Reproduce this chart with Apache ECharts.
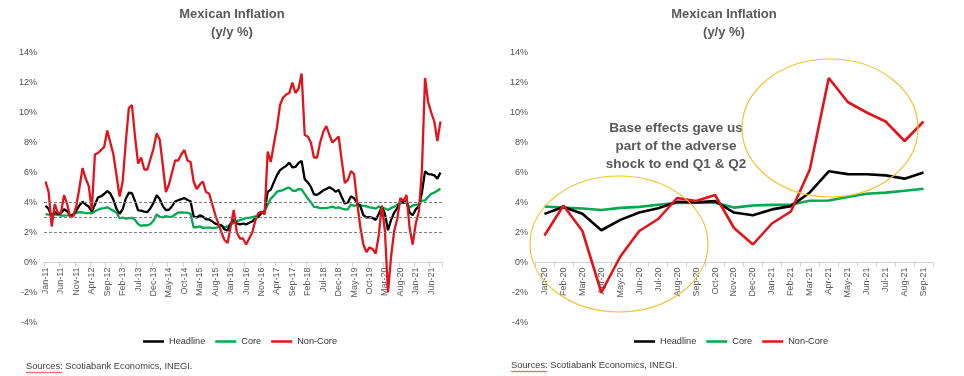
<!DOCTYPE html>
<html>
<head>
<meta charset="utf-8">
<script src="https://cdn.jsdelivr.net/npm/echarts@6/dist/echarts.min.js"></script>
<style>
  html, body { margin: 0; padding: 0; background: #fff; }
  #chart { width: 964px; height: 376px; }
</style>
</head>
<body>
<div id="chart"></div>
<script>
// month labels Jan-11 .. Sep-21
var monthNames = ['Jan','Feb','Mar','Apr','May','Jun','Jul','Aug','Sep','Oct','Nov','Dec'];
var months = [];
for (var y = 2011; y <= 2021; y++) {
  for (var m = 0; m < 12; m++) {
    if (y == 2021 && m > 8) break;
    months.push(monthNames[m] + '-' + String(y).slice(2));
  }
}

// y/y %, one row per year
var headline = [
  3.78, 3.57, 3.04, 3.36, 3.25, 3.28, 3.55, 3.42, 3.14, 3.20, 3.48, 3.82,
  4.05, 3.87, 3.73, 3.41, 3.85, 4.34, 4.42, 4.57, 4.77, 4.60, 4.18, 3.57,
  3.25, 3.55, 4.25, 4.65, 4.63, 4.09, 3.47, 3.46, 3.39, 3.36, 3.62, 3.97,
  4.48, 4.23, 3.76, 3.50, 3.51, 3.75, 4.07, 4.15, 4.22, 4.30, 4.17, 4.08,
  3.07, 3.00, 3.14, 3.06, 2.88, 2.87, 2.74, 2.59, 2.52, 2.48, 2.21, 2.13,
  2.61, 2.87, 2.60, 2.54, 2.60, 2.54, 2.65, 2.73, 2.97, 3.06, 3.31, 3.36,
  4.72, 4.86, 5.35, 5.82, 6.16, 6.31, 6.44, 6.66, 6.35, 6.37, 6.63, 6.77,
  5.55, 5.34, 5.04, 4.55, 4.51, 4.65, 4.81, 4.90, 5.02, 4.90, 4.72, 4.83,
  4.37, 3.94, 4.00, 4.41, 4.28, 3.95, 3.78, 3.16, 3.00, 3.02, 2.97, 2.83,
  3.24, 3.70, 3.25, 2.15, 2.84, 3.33, 3.62, 4.05, 4.01, 4.09, 3.33, 3.15,
  3.54, 3.76, 4.67, 6.08, 5.89, 5.88, 5.81, 5.59, 6.00
];
var core = [
  3.23, 3.19, 3.20, 3.19, 3.18, 3.12, 3.13, 3.14, 3.16, 3.18, 3.32, 3.35,
  3.34, 3.29, 3.31, 3.28, 3.42, 3.52, 3.60, 3.63, 3.68, 3.56, 3.45, 3.34,
  2.95, 3.00, 2.92, 2.96, 2.98, 2.84, 2.57, 2.44, 2.49, 2.48, 2.57, 2.78,
  3.21, 3.05, 3.00, 3.09, 3.04, 3.05, 3.20, 3.33, 3.34, 3.32, 3.32, 3.24,
  2.34, 2.35, 2.41, 2.31, 2.33, 2.33, 2.31, 2.30, 2.36, 2.47, 2.34, 2.41,
  2.54, 2.64, 2.76, 2.82, 2.89, 2.97, 2.98, 3.03, 3.07, 3.10, 3.29, 3.44,
  3.84, 4.26, 4.46, 4.72, 4.78, 4.83, 4.94, 5.00, 4.80, 4.77, 4.90, 4.87,
  4.56, 4.27, 4.02, 3.71, 3.69, 3.62, 3.63, 3.63, 3.67, 3.73, 3.63, 3.68,
  3.60, 3.54, 3.55, 3.87, 3.77, 3.85, 3.82, 3.78, 3.75, 3.68, 3.65, 3.59,
  3.73, 3.66, 3.60, 3.50, 3.64, 3.71, 3.85, 3.97, 3.99, 3.98, 3.66, 3.80,
  3.84, 3.87, 4.12, 4.13, 4.37, 4.58, 4.66, 4.78, 4.92
];
var nonCore = [
  5.4, 4.7, 2.4, 3.9, 3.3, 3.3, 4.5, 3.9, 3.0, 3.1, 3.8, 5.0,
  6.3, 5.6, 5.1, 3.5, 7.2, 7.3, 7.5, 7.7, 8.8, 8.0, 7.2, 5.8,
  4.4, 5.4, 8.0, 10.3, 10.5, 8.4, 6.6, 7.0, 6.2, 6.2, 6.9, 7.6,
  8.6, 8.2, 6.5, 4.7, 5.2, 6.0, 6.8, 6.8, 7.2, 7.5, 6.8, 6.7,
  5.4, 4.9, 5.2, 5.4, 4.7, 4.6, 3.9, 3.2, 2.6, 2.0, 1.5, 1.3,
  2.4, 3.5, 2.0, 1.6, 1.6, 1.2, 1.6, 2.0, 2.8, 3.3, 3.4, 3.2,
  7.4, 6.7, 7.9, 9.0, 10.5, 11.0, 11.2, 11.3, 12.0, 11.3, 11.6, 12.6,
  8.5, 8.4, 8.0, 7.0, 7.0, 8.0, 8.7, 9.1, 8.5, 8.0, 8.2, 8.4,
  6.8, 5.3, 5.5, 6.1, 5.9, 4.0, 2.4, 1.2, 0.7, 1.0, 0.9, 0.6,
  1.8, 3.8, 2.1, -2.0, 0.4, 2.1, 2.9, 4.3, 4.1, 4.5, 2.3, 1.2,
  2.6, 3.4, 6.2, 12.3, 10.7, 10.0, 9.4, 8.1, 9.4
];

// dashed reference lines on the long chart
var refLines = [4, 3, 2];
// zoomed panel starts at Jan-20
var zoomStart = months.indexOf('Jan-20');

var textGray = '#595959';
var colors = { Headline: '#000000', Core: '#00A84F', 'Non-Core': '#E3131B' };

// plot box shared by both panels: -4%..14% over 270px, so 0% sits 60px above the bottom
var plotTop = 52.5, plotHeight = 270, yMin = -4, yMax = 14;
var zeroOffset = -plotHeight * (0 - yMin) / (yMax - yMin);

var chart = echarts.init(document.getElementById('chart'));

function lineSeries(name, data, axisIndex, width) {
  return {
    name: name,
    type: 'line',
    xAxisIndex: axisIndex,
    yAxisIndex: axisIndex,
    data: data,
    symbol: 'none',
    smooth: false,
    lineStyle: { color: colors[name], width: width },
    itemStyle: { color: colors[name] },
    z: name == 'Non-Core' ? 4 : (name == 'Headline' ? 3 : 2)
  };
}

function yAxis(gridIndex) {
  return {
    type: 'value',
    gridIndex: gridIndex,
    min: yMin,
    max: yMax,
    interval: 2,
    splitLine: { show: false },
    axisLine: { show: false },
    axisTick: { show: false },
    axisLabel: { formatter: '{value}%', color: '#4d4d4d', fontSize: 9, margin: 7, fontFamily: 'Liberation Sans' }
  };
}

// x axis pulled up onto the 0% line (onZero leaves the labels at the bottom in v6)
function xAxis(gridIndex, cats, every) {
  return {
    type: 'category',
    gridIndex: gridIndex,
    data: cats,
    boundaryGap: true,
    position: 'bottom',
    offset: zeroOffset,
    axisLine: { show: true, onZero: false, lineStyle: { color: '#d0d0d0', width: 1 } },
    axisTick: { show: true, interval: every, length: 4, lineStyle: { color: '#d0d0d0' } },
    axisLabel: { interval: every, rotate: 90, fontSize: 9, color: textGray, margin: 5, fontFamily: 'Liberation Sans' }
  };
}

function titleAt(x) {
  return {
    text: 'Mexican Inflation',
    subtext: '(y/y %)',
    left: x,
    top: 7,
    textAlign: 'center',
    padding: 0,
    itemGap: 4,
    textStyle: { fontSize: 13, fontWeight: 'bold', color: textGray, lineHeight: 14, fontFamily: 'Liberation Sans' },
    subtextStyle: { fontSize: 13, fontWeight: 'bold', color: textGray, lineHeight: 14, fontFamily: 'Liberation Sans' }
  };
}

function legendAt(x) {
  return {
    left: x,
    top: 337,
    icon: 'rect',
    itemWidth: 21,
    itemHeight: 2.5,
    itemGap: 10,
    padding: 0,
    data: ['Headline', 'Core', 'Non-Core'],
    textStyle: { fontSize: 9.2, color: '#333333', fontFamily: 'Liberation Sans' }
  };
}

// spell-check squiggle under "Sources"
function squiggle(x0, y0) {
  var pts = [];
  for (var i = 0; i <= 18; i++) pts.push([x0 + i * 2, y0 + (i % 2 ? 1 : 0)]);
  return {
    type: 'polyline', silent: true,
    shape: { points: pts },
    style: { stroke: '#E3131B', lineWidth: 0.8, fill: 'none' }
  };
}

var leftSeries = lineSeries('Headline', headline, 0, 2.3);
leftSeries.markLine = {
  silent: true,
  symbol: 'none',
  label: { show: false },
  lineStyle: { color: '#7f7f7f', type: [3, 2], width: 1 },
  data: refLines.map(function (v) { return { yAxis: v }; })
};

var option = {
  animation: false,
  backgroundColor: '#ffffff',
  title: [titleAt(232), titleAt(724)],
  legend: [legendAt(143), legendAt(634)],
  grid: [
    { left: 44, top: plotTop, width: 398, height: plotHeight },
    { left: 535, top: plotTop, width: 398, height: plotHeight }
  ],
  xAxis: [xAxis(0, months, 4), xAxis(1, months.slice(zoomStart), 0)],
  yAxis: [yAxis(0), yAxis(1)],
  series: [
    leftSeries,
    lineSeries('Core', core, 0, 2.3),
    lineSeries('Non-Core', nonCore, 0, 2.3),
    lineSeries('Headline', headline.slice(zoomStart), 1, 2.6),
    lineSeries('Core', core.slice(zoomStart), 1, 2.6),
    lineSeries('Non-Core', nonCore.slice(zoomStart), 1, 2.6)
  ],
  graphic: [
    {
      type: 'text', left: 26, top: 362,
      style: { text: 'Sources: Scotiabank Economics, INEGI.', fontSize: 9.3, fill: '#404040', fontFamily: 'Liberation Sans' }
    },
    squiggle(26, 372),
    {
      type: 'text', left: 511, top: 361,
      style: { text: 'Sources: Scotiabank Economics, INEGI.', fontSize: 9.3, fill: '#404040', fontFamily: 'Liberation Sans' }
    },
    squiggle(511, 371),
    {
      type: 'text', x: 676, y: 146, z: 10,
      style: {
        text: 'Base effects gave us\npart of the adverse\nshock to end Q1 & Q2',
        align: 'center', verticalAlign: 'middle',
        fontSize: 13.5, fontWeight: 'bold', lineHeight: 18, fill: textGray, fontFamily: 'Liberation Sans'
      }
    },
    {
      type: 'ellipse', z: 10, silent: true,
      shape: { cx: 619, cy: 244, rx: 89, ry: 68 },
      style: { fill: 'none', stroke: '#F2C233', lineWidth: 1.2 }
    },
    {
      type: 'ellipse', z: 10, silent: true,
      shape: { cx: 830, cy: 128, rx: 88, ry: 69 },
      style: { fill: 'none', stroke: '#F2C233', lineWidth: 1.2 }
    }
  ]
};

chart.setOption(option);
</script>
</body>
</html>
